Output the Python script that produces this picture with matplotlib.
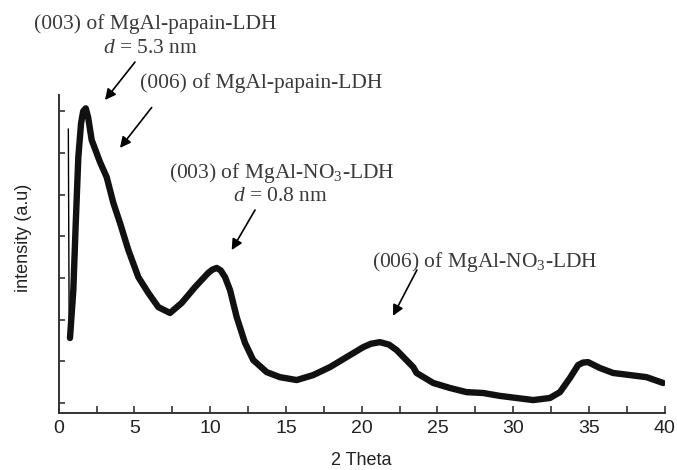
import matplotlib.pyplot as plt
from matplotlib.ticker import MultipleLocator

plt.rcParams['mathtext.fontset'] = 'custom'
plt.rcParams['mathtext.rm'] = 'Liberation Serif'
plt.rcParams['mathtext.it'] = 'Liberation Serif:italic'

# XRD pattern (2 theta in degrees, intensity in arbitrary units)
two_theta = [0.64, 0.69, 0.75, 0.97, 1.13, 1.30, 1.48, 1.62, 1.79, 1.95, 2.18,
             2.73, 3.17, 3.61, 4.05, 4.60, 5.26, 5.92, 6.58, 7.35, 8.12, 9.00,
             9.87, 10.15, 10.43, 10.70, 10.98, 11.31, 11.75, 12.30, 12.84,
             13.73, 14.60, 15.71, 16.80, 17.90, 19.00, 20.10, 20.60, 21.20,
             21.80, 22.30, 23.40, 23.62, 24.72, 25.82, 26.92, 28.01, 29.12,
             30.22, 31.31, 32.42, 33.08, 33.74, 34.28, 34.60, 34.94, 35.71,
             36.59, 37.69, 38.79, 39.89]
intensity = [6.57, 2.23, 1.56, 2.71, 4.32, 5.90, 6.71, 7.00, 7.07, 6.85, 6.31,
             5.78, 5.42, 4.80, 4.32, 3.67, 3.02, 2.64, 2.30, 2.16, 2.40, 2.78,
             3.12, 3.20, 3.24, 3.18, 3.02, 2.71, 2.06, 1.44, 1.03,
             0.74, 0.62, 0.55, 0.67, 0.86, 1.10, 1.34, 1.42, 1.46,
             1.40, 1.27, 0.86, 0.72, 0.48, 0.36, 0.26, 0.24, 0.17,
             0.12, 0.07, 0.12, 0.26, 0.60, 0.91, 0.97, 0.98, 0.84,
             0.72, 0.67, 0.62, 0.48]

x_ticks = [0, 5, 10, 15, 20, 25, 30, 35, 40]

# (text, text position, arrow head position)
notes = [
    ('(003) of MgAl-papain-LDH', (6.4, 9.09), None),
    ('$d$ = 5.3 nm', (6.03, 8.51), (3.06, 7.27)),
    ('(006) of MgAl-papain-LDH', (13.35, 7.67), (4.05, 6.12)),
    ('(003) of MgAl-NO$_3$-LDH', (14.70, 5.52), None),
    ('$d$ = 0.8 nm', (14.67, 4.96), (11.42, 3.67)),
    ('(006) of MgAl-NO$_3$-LDH', (28.1, 3.38), (22.06, 2.09)),
]
arrow_tails = [(5.04, 8.18), (6.14, 7.09), (12.96, 4.63), (23.64, 3.19)]

fig = plt.figure(figsize=(6.77, 4.70), dpi=100)
ax = fig.add_axes([0.0866, 0.1213, 0.8954, 0.6766])

ax.plot(two_theta[:3], intensity[:3], color='black', lw=1.0)
ax.plot(two_theta[2:], intensity[2:], color='#111111', lw=4.6,
        solid_joinstyle='round', solid_capstyle='round')

ax.set_xlim(0, 40)
ax.set_ylim(-0.24, 7.39)
ax.set_xticks(x_ticks)
ax.xaxis.set_minor_locator(MultipleLocator(2.5))
ax.yaxis.set_major_locator(MultipleLocator(1))
ax.set_yticklabels([])
ax.tick_params(direction='in', length=5, width=1.2, color='#333333',
               labelsize=14, labelcolor='#222222', pad=5)
ax.tick_params(which='minor', direction='in', length=5, width=1.2, color='#333333')
ax.tick_params(axis='y', length=4)
for lab in ax.get_xticklabels():
    lab.set_fontfamily('Liberation Sans')

for s in ['top', 'right']:
    ax.spines[s].set_visible(False)
for s in ['left', 'bottom']:
    ax.spines[s].set_linewidth(1.4)
    ax.spines[s].set_color('#333333')

ax.set_xlabel('2 Theta', fontsize=13, family='Liberation Sans', color='#222222', labelpad=11)
ax.set_ylabel('intensity (a.u)', fontsize=13, family='Liberation Sans', color='#222222')
ax.yaxis.set_label_coords(-0.044, 0.55)

tail_i = 0
for text, pos, head in notes:
    ax.text(pos[0], pos[1], text, ha='center', va='center', fontsize=15.5,
            family='Liberation Serif', color='#3a3a3a', clip_on=False)
    if head is not None:
        ax.annotate('', xy=head, xytext=arrow_tails[tail_i], annotation_clip=False,
                    arrowprops=dict(arrowstyle='-|>', color='black', lw=1.2,
                                    mutation_scale=16, shrinkA=0, shrinkB=0))
        tail_i += 1

fig.savefig('out.png', dpi=100)
